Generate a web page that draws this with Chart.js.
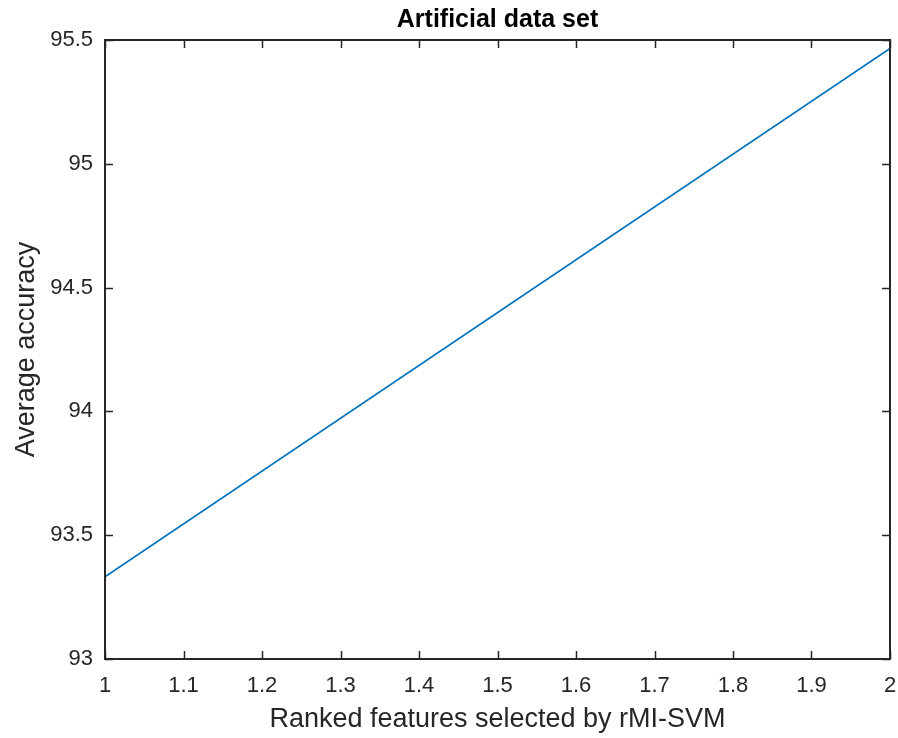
<!DOCTYPE html>
<html>
<head>
<meta charset="utf-8">
<script src="https://cdn.jsdelivr.net/npm/chart.js@4"></script>
<style>
  html, body { margin: 0; padding: 0; background: #fff; }
  #wrap { width: 898px; height: 738px; }
</style>
</head>
<body>
<div id="wrap"><canvas id="c" width="898" height="738"></canvas></div>
<script>
// Number of ranked features vs. averaged classification accuracy
const featureCounts = [1, 2];
const averageAccuracy = [93.332, 95.466];

const xTickValues = [1, 1.1, 1.2, 1.3, 1.4, 1.5, 1.6, 1.7, 1.8, 1.9, 2];
const yTickValues = [93, 93.5, 94, 94.5, 95, 95.5];

const AXIS_COLOR = '#262626';
const FONT = '"Liberation Sans", Arial, Helvetica, sans-serif';

// Box around the plot area with inward-pointing ticks on all four sides
const boxTicks = {
  id: 'boxTicks',
  afterDraw(chart) {
    const { ctx, chartArea: a, scales } = chart;
    const len = 8;
    ctx.save();
    ctx.strokeStyle = AXIS_COLOR;
    ctx.lineWidth = 1.5;
    ctx.beginPath();
    xTickValues.forEach(v => {
      const x = Math.round(scales.x.getPixelForValue(v)) + 0.5;
      ctx.moveTo(x, a.bottom); ctx.lineTo(x, a.bottom - len);
      ctx.moveTo(x, a.top); ctx.lineTo(x, a.top + len);
    });
    yTickValues.forEach(v => {
      const y = Math.round(scales.y.getPixelForValue(v)) + 0.5;
      ctx.moveTo(a.left, y); ctx.lineTo(a.left + len, y);
      ctx.moveTo(a.right, y); ctx.lineTo(a.right - len, y);
    });
    ctx.stroke();
    ctx.lineWidth = 2;
    ctx.strokeRect(a.left, a.top, a.right - a.left, a.bottom - a.top);
    ctx.restore();
  }
};

const fmt = v => String(Math.round(v * 10) / 10);

new Chart(document.getElementById('c'), {
  type: 'line',
  data: {
    datasets: [{
      data: featureCounts.map((x, i) => ({ x, y: averageAccuracy[i] })),
      borderColor: '#0072BD',
      borderWidth: 1.6,
      pointRadius: 0,
      fill: false,
      tension: 0
    }]
  },
  options: {
    responsive: false,
    animation: false,
    events: [],
    layout: { padding: { left: 0, right: 8, top: 0, bottom: 0 } },
    plugins: {
      legend: { display: false },
      tooltip: { enabled: false },
      title: {
        display: true,
        text: 'Artificial data set',
        fullSize: false,
        color: '#000',
        font: { family: FONT, size: 25, weight: 'bold' },
        padding: { top: 5, bottom: 5 }
      }
    },
    scales: {
      x: {
        type: 'linear',
        min: 1, max: 2,
        grid: { display: false, drawTicks: false },
        border: { display: false },
        afterBuildTicks(scale) { scale.ticks = xTickValues.map(value => ({ value })); },
        afterFit(scale) {
          scale.height = 79;
          scale.paddingLeft = 0;
          scale.paddingRight = 0;
        },
        ticks: {
          color: AXIS_COLOR,
          padding: 14,
          maxRotation: 0,
          autoSkip: false,
          font: { family: FONT, size: 22 },
          callback: v => fmt(v)
        },
        title: {
          display: true,
          text: 'Ranked features selected by rMI-SVM',
          color: AXIS_COLOR,
          font: { family: FONT, size: 27 },
          padding: { top: 0, bottom: 2 }
        }
      },
      y: {
        type: 'linear',
        min: 93, max: 95.5,
        grid: { display: false, drawTicks: false },
        border: { display: false },
        afterBuildTicks(scale) { scale.ticks = yTickValues.map(value => ({ value })); },
        afterFit(scale) {
          scale.width = 105;
          scale.paddingTop = 0;
          scale.paddingBottom = 0;
        },
        ticks: {
          color: AXIS_COLOR,
          padding: 12,
          autoSkip: false,
          font: { family: FONT, size: 22 },
          callback: v => fmt(v)
        },
        title: {
          display: true,
          text: 'Average accuracy',
          color: AXIS_COLOR,
          font: { family: FONT, size: 27 },
          padding: { top: 10, bottom: 0 }
        }
      }
    }
  },
  plugins: [boxTicks]
});
</script>
</body>
</html>
